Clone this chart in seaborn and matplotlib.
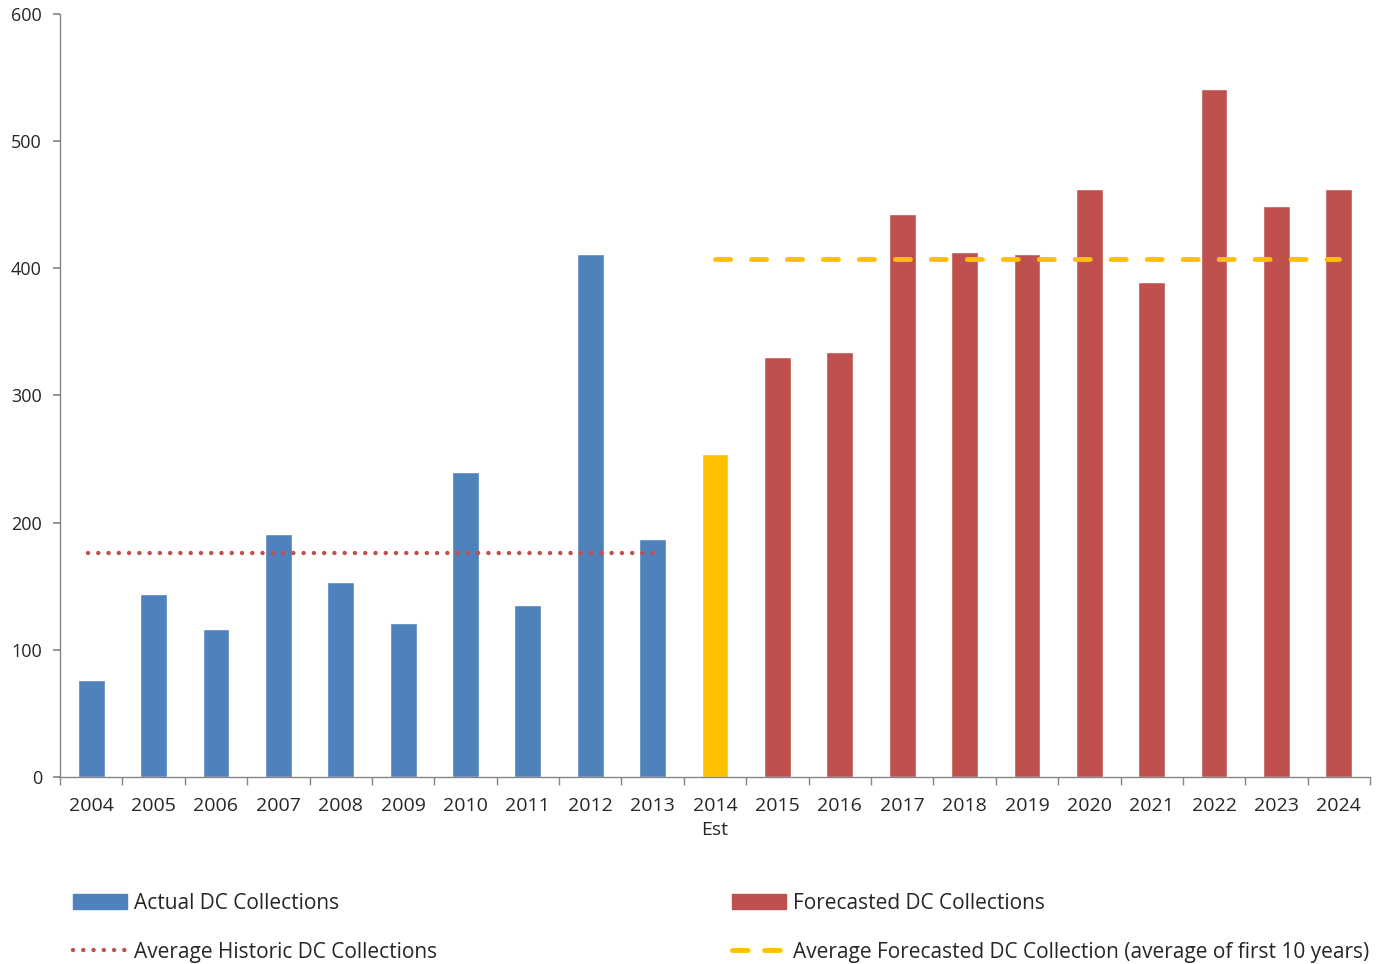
import matplotlib
matplotlib.use("Agg")
import matplotlib.pyplot as plt
import seaborn as sns
import pandas as pd
import numpy as np
from matplotlib.patches import Patch
from matplotlib.lines import Line2D

# Development charge collections by year ($ thousands)
years = ["2004", "2005", "2006", "2007", "2008", "2009", "2010", "2011", "2012",
         "2013", "2014\nEst", "2015", "2016", "2017", "2018", "2019", "2020",
         "2021", "2022", "2023", "2024"]
collections = [76, 144, 116, 191, 153, 121, 240, 135, 411, 187, 254,
               330, 334, 443, 413, 411, 462, 389, 541, 449, 462]
groups = ["Actual"] * 10 + ["Estimate"] + ["Forecast"] * 10

avg_historic = 176
avg_forecast = 407

palette = {"Actual": "#4F81BD", "Estimate": "#FFC000", "Forecast": "#C0504D"}

df = pd.DataFrame({"year": years, "value": collections, "group": groups})

sns.set_theme(style="white")
plt.rcParams["font.family"] = ["Open Sans", "DejaVu Sans"]

fig = plt.figure(figsize=(13.79, 9.64), dpi=100)
ax = fig.add_axes([0.0435, 0.194, 0.95, 0.7915])

sns.barplot(data=df, x="year", y="value", hue="group", palette=palette,
            dodge=False, width=0.43, ax=ax, legend=False, saturation=1)

hist_idx = [i for i, g in enumerate(groups) if g == "Actual"]
fc_idx = [i for i, g in enumerate(groups) if g != "Actual"]
dot_style = (0, (0.01, 2.3))
dash_style = (0, (3.1, 4.3))
ax.plot([hist_idx[0] - 0.05, hist_idx[-1]], [avg_historic, avg_historic],
        color="#C0504D", lw=3.2, linestyle=dot_style, dash_capstyle="round")
ax.plot([fc_idx[0], fc_idx[-1]], [avg_forecast, avg_forecast],
        color="#FFC000", lw=3.5, linestyle=dash_style, dash_capstyle="round")

ax.set_xlim(-0.5, len(years) - 0.5)
ax.set_ylim(0, 600)
ax.set_yticks(range(0, 601, 100))
ax.set_xlabel("")
ax.set_ylabel("")

for side in ["top", "right"]:
    ax.spines[side].set_visible(False)
for side in ["left", "bottom"]:
    ax.spines[side].set_color("#868686")
    ax.spines[side].set_linewidth(1)

ax.tick_params(axis="y", which="major", length=5, color="#868686",
               labelsize=13, pad=8, labelcolor="#262626", left=True)
ax.tick_params(axis="x", which="major", length=0, labelsize=14, pad=14.5,
               labelcolor="#262626")
for lbl in ax.get_xticklabels():
    lbl.set_linespacing(1.45)
ax.set_xticks(np.arange(-0.5, len(years)), minor=True)
ax.tick_params(axis="x", which="minor", length=6, color="#868686", bottom=True)

leg_kw = dict(frameon=False, fontsize=15, handlelength=2.6,
              handleheight=0.7, labelspacing=1.35, handletextpad=0.3,
              borderaxespad=0, borderpad=0)
left_handles = [Patch(color="#4F81BD"),
                Line2D([], [], color="#C0504D", lw=3.2,
                       linestyle=dot_style, dash_capstyle="round")]
right_handles = [Patch(color="#C0504D"),
                 Line2D([], [], color="#FFC000", lw=3.5,
                        linestyle=(0, (3.2, 3.4)), dash_capstyle="round")]
fig.legend(left_handles,
           ["Actual DC Collections", "Average Historic DC Collections"],
           loc="upper left", bbox_to_anchor=(0.053, 0.074), **leg_kw)
fig.legend(right_handles,
           ["Forecasted DC Collections",
            "Average Forecasted DC Collection (average of first 10 years)"],
           loc="upper left", bbox_to_anchor=(0.531, 0.074), **leg_kw)

fig.savefig("out.png", dpi=100, facecolor="white")
